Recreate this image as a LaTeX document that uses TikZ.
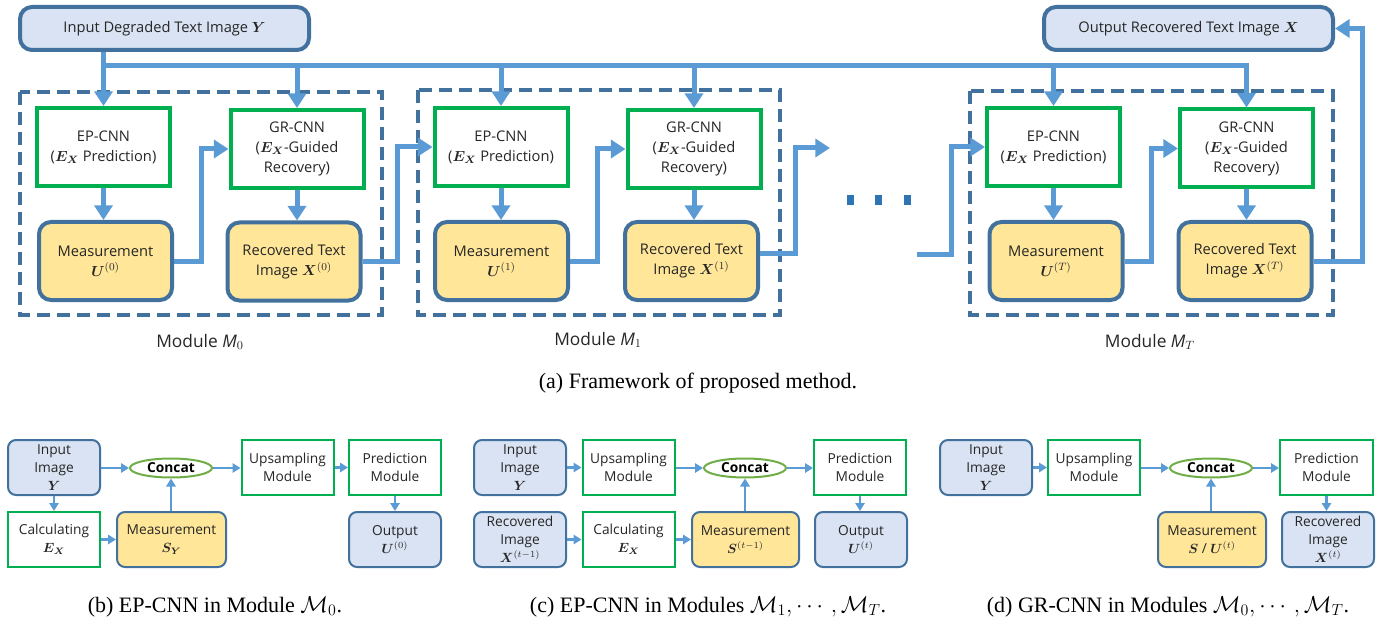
\documentclass[tikz,border=0pt]{standalone}
\usepackage{fontspec}
\usepackage{amsmath}
\usepackage{bm}
\setmainfont{Liberation Serif}
\setsansfont{Open Sans}
\usetikzlibrary{arrows.meta,calc,shapes.geometric}
\definecolor{lblue}{HTML}{DAE3F3}
\definecolor{dblue}{HTML}{41719C}
\definecolor{ablue}{HTML}{5B9BD5}
\definecolor{ygold}{HTML}{FFE699}
\definecolor{ggreen}{HTML}{00B050}
\definecolor{cgreen}{HTML}{70AD47}
\definecolor{dotblue}{HTML}{2E75B6}
\definecolor{txt}{HTML}{262626}
\tikzset{
  bigtxt/.style={font=\sffamily\fontsize{11}{15}\selectfont, text=txt, align=center},
  cnnbox/.style={draw=ggreen, line width=3pt, fill=white, minimum width=99.75pt, minimum height=58.5pt, inner sep=0pt, bigtxt},
  measbox/.style={draw=dblue, line width=3pt, fill=ygold, rounded corners=9pt, minimum width=99.75pt, minimum height=58.5pt, inner sep=0pt, bigtxt},
  iobox/.style={draw=dblue, line width=3pt, fill=lblue, rounded corners=9pt, minimum width=216.75pt, minimum height=32.25pt, inner sep=0pt, bigtxt},
  modframe/.style={draw=dblue, line width=3pt, dash pattern=on 10pt off 5pt},
  modlabel/.style={font=\sffamily\fontsize{13}{15}\selectfont, text=txt},
  bigarrow/.style={draw=ablue, line width=3.75pt, -{Triangle[width=13.5pt,length=11pt]}},
  smalltxt/.style={font=\sffamily\fontsize{10.3}{13.5}\selectfont, text=txt, align=center},
  sbox/.style={draw=ggreen, line width=1.5pt, fill=white, minimum width=69pt, minimum height=41.25pt, inner sep=0pt, smalltxt},
  sio/.style={draw=dblue, line width=1.5pt, fill=lblue, rounded corners=6pt, minimum width=69pt, minimum height=41.25pt, inner sep=0pt, smalltxt},
  smeas/.style={draw=dblue, line width=1.5pt, fill=ygold, rounded corners=6pt, minimum width=81.75pt, minimum height=41.25pt, inner sep=0pt, smalltxt},
  concat/.style={ellipse, draw=cgreen, line width=1.5pt, fill=white, minimum width=61.5pt, minimum height=14.25pt, inner sep=0pt, font=\sffamily\bfseries\fontsize{10.3}{12}\selectfont, text=black},
  sarrow/.style={draw=ablue, line width=2pt, -{Triangle[width=7pt,length=6pt]}},
  captxt/.style={font=\rmfamily\fontsize{16.5}{20}\selectfont, text=black},
  dotsq/.style={fill=dotblue, minimum width=5.25pt, minimum height=7.5pt, inner sep=0pt}
}
\begin{document}
\begin{tikzpicture}[x=0.75pt,y=-0.75pt]
\useasboundingbox (0,0) rectangle (1396,624);
% module frames
\draw[modframe] (20,92) rectangle (382,315);
\draw[modframe] (418,90) rectangle (780,315);
\draw[modframe] (970,91) rectangle (1333,315);
% io boxes
\node[iobox] (inp) at (164.5,28.5) {Input Degraded Text Image $\bm{Y}$};
\node[iobox] (out) at (1188.5,28.5) {Output Recovered Text Image $\bm{X}$};
% module 0
\node[cnnbox] (EP0) at (103.5,147) {EP-CNN\\($\bm{E_X}$ Prediction)};
\node[cnnbox] (GR0) at (297,149) {GR-CNN\\($\bm{E_X}$-Guided\\Recovery)};
\node[measbox] (M0) at (105.5,261) {Measurement\\$\bm{U}^{(0)}$};
\node[measbox] (R0) at (294,261.5) {Recovered Text\\Image $\bm{X}^{(0)}$};
% module 1
\node[cnnbox] (EP1) at (501,147) {EP-CNN\\($\bm{E_X}$ Prediction)};
\node[cnnbox] (GR1) at (694,149) {GR-CNN\\($\bm{E_X}$-Guided\\Recovery)};
\node[measbox] (M1) at (501.5,261) {Measurement\\$\bm{U}^{(1)}$};
\node[measbox] (R1) at (691.5,261) {Recovered Text\\Image $\bm{X}^{(1)}$};
% module T
\node[cnnbox] (EPT) at (1053.5,147) {EP-CNN\\($\bm{E_X}$ Prediction)};
\node[cnnbox] (GRT) at (1246.5,148.5) {GR-CNN\\($\bm{E_X}$-Guided\\Recovery)};
\node[measbox] (MT) at (1056,261) {Measurement\\$\bm{U}^{(T)}$};
\node[measbox] (RT) at (1245,261) {Recovered Text\\Image $\bm{X}^{(T)}$};
% module labels
\node[modlabel] (lab0) at (200,342) {Module {\itshape M}$_{0}$};
\node[modlabel] (lab1) at (598,340) {Module {\itshape M}$_{1}$};
\node[modlabel] (labT) at (1150,342) {Module {\itshape M}$_{T}$};
% dots
\node[dotsq] (d1) at (850.5,200) {};
\node[dotsq] (d2) at (878,200) {};
\node[dotsq] (d3) at (907,200) {};
% bus and drops
\coordinate (busY) at (0,66);
\draw[bigarrow] (inp.south -| EP0.north) -- (EP0.north);
\draw[bigarrow] (EP0.north |- busY) -- (GRT.north |- busY) -- (GRT.north);
\draw[bigarrow] (GR0.north |- busY) -- (GR0.north);
\draw[bigarrow] (EP1.north |- busY) -- (EP1.north);
\draw[bigarrow] (GR1.north |- busY) -- (GR1.north);
\draw[bigarrow] (EPT.north |- busY) -- (EPT.north);
% inner down arrows
\draw[bigarrow] (EP0.south) -- (EP0.south |- M0.north);
\draw[bigarrow] (GR0.south) -- (GR0.south |- R0.north);
\draw[bigarrow] (EP1.south) -- (EP1.south |- M1.north);
\draw[bigarrow] (GR1.south) -- (GR1.south |- R1.north);
\draw[bigarrow] (EPT.south) -- (EPT.south |- MT.north);
\draw[bigarrow] (GRT.south) -- (GRT.south |- RT.north);
% step connectors
\draw[bigarrow] (M0.east) -| ($(M0.east)!0.5!(GR0.west)$) |- (GR0.west);
\draw[bigarrow] (R0.east) -| ($(R0.east)!0.5!(EP1.west)$) |- (EP1.west);
\draw[bigarrow] (M1.east) -| ($(M1.east)!0.5!(GR1.west)$) |- (GR1.west);
\coordinate (c1) at (830,148);
\draw[bigarrow] ([yshift=6pt]R1.east) -| ($([yshift=6pt]R1.east)!0.5!(c1)$) |- (c1);
\coordinate (cT) at (917,254);
\draw[bigarrow] (cT) -| ($(cT)!0.5!(EPT.west)$) |- (EPT.west);
\draw[bigarrow] (MT.east) -| ($(MT.east)!0.5!(GRT.west)$) |- (GRT.west);
\coordinate (rx) at (1362,0);
\draw[bigarrow] (RT.east) -| (rx |- out.east) -- (out.east);
% caption a
\node[captxt] (capa) at (698,383) {(a) Framework of proposed method.};
% ---------- panel b ----------
\node[sio] (inb) at (54,467.5) {Input\\Image\\$\bm{Y}$};
\node[sbox] (calcb) at (54,539.5) {Calculating\\$\bm{E_X}$};
\node[concat] (cb) at (171,468) {Concat};
\node[smeas, minimum width=81.75pt] (measb) at (171.5,539.5) {Measurement\\$\bm{S_Y}$};
\node[sbox] (upb) at (287.5,467.5) {Upsampling\\Module};
\node[sbox] (predb) at (395,467.5) {Prediction\\Module};
\node[sio] (outb) at (395,539.5) {Output\\$\bm{U}^{(0)}$};
\draw[sarrow] (inb.east |- cb) -- (cb.west);
\draw[sarrow] (cb.east) -- (cb.east -| upb.west);
\draw[sarrow] (upb.east) -- (predb.west);
\draw[sarrow] (inb.south) -- (calcb.north);
\draw[sarrow] (calcb.east) -- (measb.west);
\draw[sarrow] (measb.north -| cb.south) -- (cb.south);
\draw[sarrow] (predb.south) -- (outb.north);
\node[captxt] (capb) at (215,607) {(b) EP-CNN in Module $\mathcal{M}_0$.};
% ---------- panel c ----------
\node[sio] (inc) at (520,467.5) {Input\\Image\\$\bm{Y}$};
\node[sbox] (upc) at (628.5,467.5) {Upsampling\\Module};
\node[concat] (cc) at (745,468) {Concat};
\node[sbox] (predc) at (860,467.5) {Prediction\\Module};
\node[sio] (recc) at (520,539.5) {Recovered\\Image\\$\bm{X}^{(t-1)}$};
\node[sbox] (calcc) at (628.5,539.5) {Calculating\\$\bm{E_X}$};
\node[smeas, minimum width=80.25pt] (measc) at (745.5,539.5) {Measurement\\$\bm{S}^{(t-1)}$};
\node[sio] (outc) at (861,539.5) {Output\\$\bm{U}^{(t)}$};
\draw[sarrow] (inc.east) -- (upc.west);
\draw[sarrow] (upc.east |- cc) -- (cc.west);
\draw[sarrow] (cc.east) -- (cc.east -| predc.west);
\draw[sarrow] (recc.east) -- (calcc.west);
\draw[sarrow] (calcc.east) -- (measc.west);
\draw[sarrow] (measc.north -| cc.south) -- (cc.south);
\draw[sarrow] (predc.south) -- (predc.south |- outc.north);
\node[captxt] (capc) at (708,607) {(c) EP-CNN in Modules $\mathcal{M}_1,\cdots,\mathcal{M}_T$.};
% ---------- panel d ----------
\node[sio] (ind) at (986,467.5) {Input\\Image\\$\bm{Y}$};
\node[sbox] (upd) at (1094,467.5) {Upsampling\\Module};
\node[concat] (cd) at (1211,468) {Concat};
\node[sbox, minimum width=69.75pt] (predd) at (1326.5,467.5) {Prediction\\Module};
\node[smeas, minimum width=81pt] (measd) at (1212,539.5) {Measurement\\$\bm{S}$ / $\bm{U}^{(t)}$};
\node[sio] (recd) at (1328,539.5) {Recovered\\Image\\$\bm{X}^{(t)}$};
\draw[sarrow] (ind.east) -- (upd.west);
\draw[sarrow] (upd.east |- cd) -- (cd.west);
\draw[sarrow] (cd.east) -- (cd.east -| predd.west);
\draw[sarrow] (measd.north -| cd.south) -- (cd.south);
\draw[sarrow] (predd.south) -- (predd.south |- recd.north);
\node[captxt] (capd) at (1168,607) {(d) GR-CNN in Modules $\mathcal{M}_0,\cdots,\mathcal{M}_T$.};
\end{tikzpicture}
\end{document}
